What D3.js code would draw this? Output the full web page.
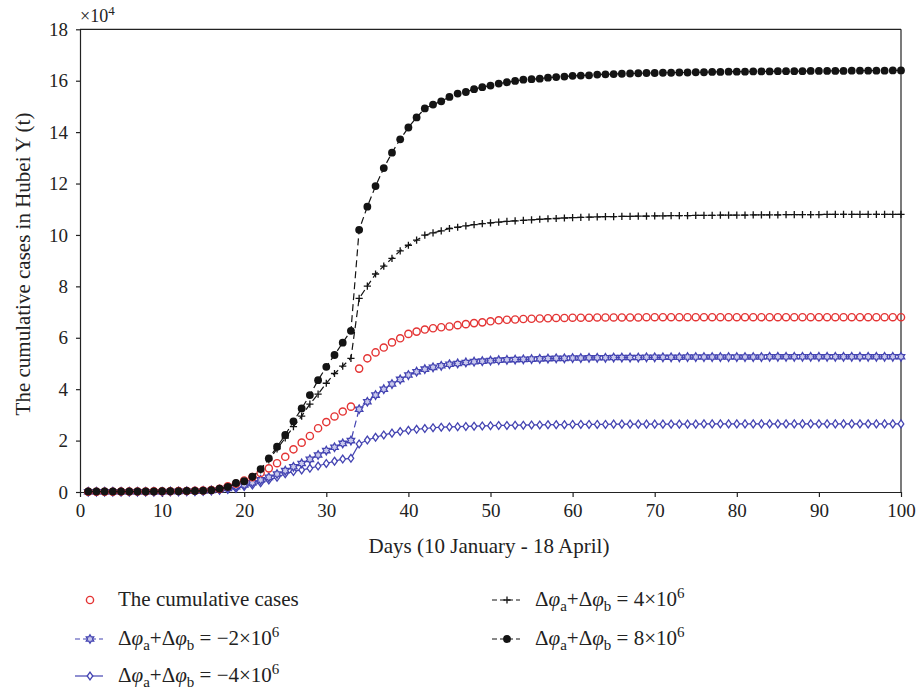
<!DOCTYPE html>
<html>
<head>
<meta charset="utf-8">
<script src="https://cdn.jsdelivr.net/npm/d3@7"></script>
<style>
  html, body { margin: 0; padding: 0; background: #fff; }
  svg { display: block; }
  text { font-family: "Liberation Serif", "Times New Roman", serif; fill: #222; }
</style>
</head>
<body>
<svg id="chart" width="917" height="690"></svg>
<script>
// ---- data (values in units of 10^4) ----
const days = d3.range(1, 101);
const xTicks = [0, 10, 20, 30, 40, 50, 60, 70, 80, 90, 100];
const yTicks = [0, 2, 4, 6, 8, 10, 12, 14, 16, 18];

const cumulativeCases = [
  0.01,0.01,0.01,0.01,0.02,0.02,0.02,0.02,0.03,0.03,
  0.03,0.04,0.04,0.05,0.06,0.08,0.12,0.22,0.32,0.45,
  0.58,0.74,0.92,1.12,1.37,1.66,1.92,2.18,2.48,2.72,
  2.94,3.13,3.32,4.80,5.20,5.43,5.62,5.82,5.98,6.15,
  6.24,6.32,6.37,6.41,6.44,6.49,6.53,6.57,6.60,6.64,
  6.68,6.70,6.71,6.73,6.74,6.75,6.76,6.77,6.77,6.78,
  6.78,6.78,6.79,6.79,6.79,6.79,6.79,6.79,6.80,6.80,
  6.80,6.80,6.80,6.80,6.80,6.80,6.80,6.80,6.80,6.80,
  6.80,6.80,6.80,6.80,6.80,6.80,6.80,6.80,6.80,6.80,
  6.80,6.80,6.80,6.80,6.80,6.80,6.80,6.80,6.80,6.80
];
const phiMinus2 = [
  0.01,0.01,0.01,0.01,0.01,0.01,0.01,0.01,0.01,0.01,
  0.02,0.02,0.03,0.03,0.04,0.06,0.09,0.14,0.21,0.27,
  0.36,0.47,0.57,0.70,0.83,0.98,1.11,1.27,1.44,1.61,
  1.74,1.89,2.00,3.22,3.51,3.77,4.00,4.20,4.38,4.55,
  4.68,4.78,4.85,4.91,4.97,5.00,5.04,5.07,5.09,5.11,
  5.13,5.14,5.15,5.16,5.17,5.18,5.19,5.20,5.20,5.21,
  5.21,5.22,5.22,5.22,5.23,5.23,5.23,5.23,5.24,5.24,
  5.24,5.24,5.24,5.25,5.25,5.25,5.25,5.25,5.25,5.25,
  5.25,5.25,5.25,5.26,5.26,5.26,5.26,5.26,5.26,5.26,
  5.26,5.26,5.26,5.26,5.26,5.26,5.26,5.26,5.26,5.26
];
const phiMinus4 = [
  0.01,0.01,0.01,0.01,0.01,0.01,0.01,0.01,0.01,0.01,
  0.02,0.02,0.02,0.03,0.04,0.05,0.07,0.10,0.14,0.21,
  0.27,0.36,0.47,0.57,0.71,0.80,0.86,0.92,1.01,1.11,
  1.20,1.28,1.31,1.87,2.02,2.13,2.22,2.29,2.35,2.40,
  2.44,2.47,2.50,2.52,2.53,2.54,2.55,2.56,2.57,2.58,
  2.59,2.59,2.60,2.60,2.61,2.61,2.62,2.62,2.62,2.63,
  2.63,2.63,2.63,2.63,2.64,2.64,2.64,2.64,2.64,2.64,
  2.64,2.64,2.64,2.64,2.64,2.65,2.65,2.65,2.65,2.65,
  2.65,2.65,2.65,2.65,2.65,2.65,2.65,2.65,2.65,2.65,
  2.65,2.65,2.65,2.65,2.65,2.65,2.65,2.65,2.65,2.65
];
const phiPlus4 = [
  0.02,0.02,0.02,0.02,0.02,0.02,0.02,0.02,0.02,0.03,
  0.03,0.03,0.04,0.04,0.05,0.07,0.12,0.19,0.32,0.40,
  0.58,0.86,1.25,1.68,2.10,2.54,2.95,3.42,3.81,4.23,
  4.61,4.90,5.20,7.53,8.01,8.48,8.79,9.09,9.38,9.60,
  9.80,9.99,10.08,10.16,10.25,10.30,10.35,10.40,10.44,10.47,
  10.50,10.53,10.55,10.57,10.59,10.61,10.63,10.64,10.66,10.67,
  10.68,10.69,10.70,10.71,10.71,10.72,10.72,10.73,10.73,10.74,
  10.74,10.75,10.75,10.75,10.76,10.76,10.76,10.77,10.77,10.77,
  10.77,10.78,10.78,10.78,10.78,10.79,10.79,10.79,10.79,10.79,
  10.80,10.80,10.80,10.80,10.80,10.80,10.80,10.80,10.80,10.80
];
const phiPlus8 = [
  0.02,0.02,0.02,0.02,0.02,0.02,0.02,0.02,0.02,0.03,
  0.03,0.03,0.04,0.04,0.05,0.07,0.13,0.20,0.35,0.42,
  0.60,0.89,1.31,1.76,2.22,2.75,3.25,3.77,4.35,4.87,
  5.33,5.81,6.27,10.20,11.10,11.90,12.60,13.20,13.72,14.18,
  14.57,14.92,15.07,15.20,15.37,15.50,15.56,15.67,15.75,15.81,
  15.89,15.94,15.99,16.04,16.06,16.08,16.12,16.14,16.16,16.19,
  16.20,16.21,16.24,16.25,16.26,16.27,16.28,16.29,16.30,16.30,
  16.31,16.31,16.32,16.32,16.33,16.33,16.34,16.34,16.35,16.35,
  16.35,16.36,16.36,16.36,16.37,16.37,16.37,16.37,16.38,16.38,
  16.38,16.38,16.38,16.39,16.39,16.39,16.39,16.39,16.40,16.40
];

// ---- layout ----
const svg = d3.select("#chart");
const X0 = 80, X1 = 901, Y0 = 492, Y1 = 29.3;
const x = d3.scaleLinear().domain([0, 100]).range([X0, X1]);
const y = d3.scaleLinear().domain([0, 18]).range([Y0, Y1]);

const RED = "#e43434", BLUE = "#4444b2", BLACK = "#141414";

// hexagram path
function hexagram(R) {
  const r = R / Math.sqrt(3);
  const pts = [];
  for (let i = 0; i < 12; i++) {
    const a = -Math.PI / 2 + i * Math.PI / 6;
    const rr = i % 2 === 0 ? R : r;
    pts.push([rr * Math.cos(a), rr * Math.sin(a)]);
  }
  return "M" + pts.map(p => p[0].toFixed(2) + "," + p[1].toFixed(2)).join("L") + "Z";
}

const markers = {
  circleOpen: (g) => g.append("circle").attr("r", 3.6).attr("fill", "none").attr("stroke", RED).attr("stroke-width", 1.4),
  hexagram: (g) => g.append("path").attr("d", hexagram(4.3)).attr("fill", "#c9c9ec").attr("stroke", BLUE).attr("stroke-width", 1.3),
  diamond: (g) => g.append("path").attr("d", "M0,-3.9L2.8,0L0,3.9L-2.8,0Z").attr("fill", "#fff").attr("stroke", BLUE).attr("stroke-width", 1.3),
  plus: (g) => g.append("path").attr("d", "M-3.6,0H3.6M0,-3.6V3.6").attr("stroke", BLACK).attr("stroke-width", 1.3),
  dot: (g) => g.append("circle").attr("r", 3.9).attr("fill", BLACK)
};

const series = [
  { values: phiMinus4, color: BLUE, dash: null, marker: "diamond", line: true },
  { values: phiMinus2, color: BLUE, dash: "7,4", marker: "hexagram", line: true },
  { values: cumulativeCases, color: RED, dash: null, marker: "circleOpen", line: false },
  { values: phiPlus4, color: BLACK, dash: "7,4", marker: "plus", line: true },
  { values: phiPlus8, color: BLACK, dash: "7,4", marker: "dot", line: true }
];

// box (top + right)
svg.append("line").attr("x1", X0).attr("x2", X1).attr("y1", Y1).attr("y2", Y1).attr("stroke", "#222").attr("stroke-width", 1.2);
svg.append("line").attr("x1", X1).attr("x2", X1).attr("y1", Y1).attr("y2", Y0).attr("stroke", "#222").attr("stroke-width", 1.2);

// axes
const xAxis = svg.append("g").attr("transform", `translate(0,${Y0})`)
  .call(d3.axisBottom(x).tickValues(xTicks).tickSize(5).tickSizeOuter(0).tickPadding(7));
const yAxis = svg.append("g").attr("transform", `translate(${X0},0)`)
  .call(d3.axisLeft(y).tickValues(yTicks).tickSize(4).tickSizeOuter(0).tickPadding(8));
[xAxis, yAxis].forEach(a => {
  a.selectAll("path").attr("stroke", "#222").attr("stroke-width", 1.2);
  a.selectAll("line").attr("stroke", "#222").attr("stroke-width", 1.2);
  a.selectAll("text").style("font-family", "Liberation Serif, serif").style("font-size", "19px").attr("fill", "#222");
});

// series
const plot = svg.append("g");
series.forEach(s => {
  if (s.line) {
    plot.append("path")
      .datum(days.map((d, i) => [d, s.values[i]]))
      .attr("fill", "none").attr("stroke", s.color).attr("stroke-width", 1.2)
      .attr("stroke-dasharray", s.dash)
      .attr("d", d3.line().x(d => x(d[0])).y(d => y(d[1])));
  }
  const mg = plot.append("g");
  days.forEach((d, i) => {
    const g = mg.append("g").attr("transform", `translate(${x(d)},${y(s.values[i])})`);
    markers[s.marker](g);
  });
});

// axis titles
svg.append("text").attr("x", 489).attr("y", 553).attr("text-anchor", "middle")
  .style("font-size", "21px").text("Days (10 January - 18 April)");
svg.append("text").attr("transform", "translate(30,264) rotate(-90)").attr("text-anchor", "middle")
  .style("font-size", "21px").text("The cumulative cases in Hubei Y (t)");

// x10^4
const mult = svg.append("text").attr("x", 80).attr("y", 22).style("font-size", "18px");
mult.append("tspan").text("×10");
mult.append("tspan").attr("dy", -7).style("font-size", "13px").text("4");

// legend
const legendItems = [
  { col: 0, row: 0, marker: "circleOpen", color: RED, dash: null, line: false, label: null, text: "The cumulative cases" },
  { col: 0, row: 1, marker: "hexagram", color: BLUE, dash: "5,3", line: true, label: "−2" },
  { col: 0, row: 2, marker: "diamond", color: BLUE, dash: null, line: true, label: "−4" },
  { col: 1, row: 0, marker: "plus", color: BLACK, dash: "5,3", line: true, label: "4" },
  { col: 1, row: 1, marker: "dot", color: BLACK, dash: "5,3", line: true, label: "8" }
];
const colX = [75, 492], rowY = [600, 639, 676];
legendItems.forEach(it => {
  const lx = colX[it.col], ly = rowY[it.row];
  const g = svg.append("g");
  if (it.line) {
    g.append("line").attr("x1", lx).attr("x2", lx + 28).attr("y1", ly).attr("y2", ly)
      .attr("stroke", it.color).attr("stroke-width", 1.2).attr("stroke-dasharray", it.dash);
  }
  const mg = g.append("g").attr("transform", `translate(${lx + 15},${ly})`);
  markers[it.marker](mg);
  const t = g.append("text").attr("x", lx + 43).attr("y", ly + 6).style("font-size", "21px");
  if (it.text) {
    t.text(it.text);
  } else {
    t.append("tspan").text("Δ");
    t.append("tspan").style("font-style", "italic").text("φ");
    t.append("tspan").attr("dy", 5).style("font-size", "15px").text("a");
    t.append("tspan").attr("dy", -5).text("+Δ");
    t.append("tspan").style("font-style", "italic").text("φ");
    t.append("tspan").attr("dy", 5).style("font-size", "15px").text("b");
    t.append("tspan").attr("dy", -5).text(" = " + it.label + "×10");
    t.append("tspan").attr("dy", -8).style("font-size", "15px").text("6");
  }
});
</script>
</body>
</html>
